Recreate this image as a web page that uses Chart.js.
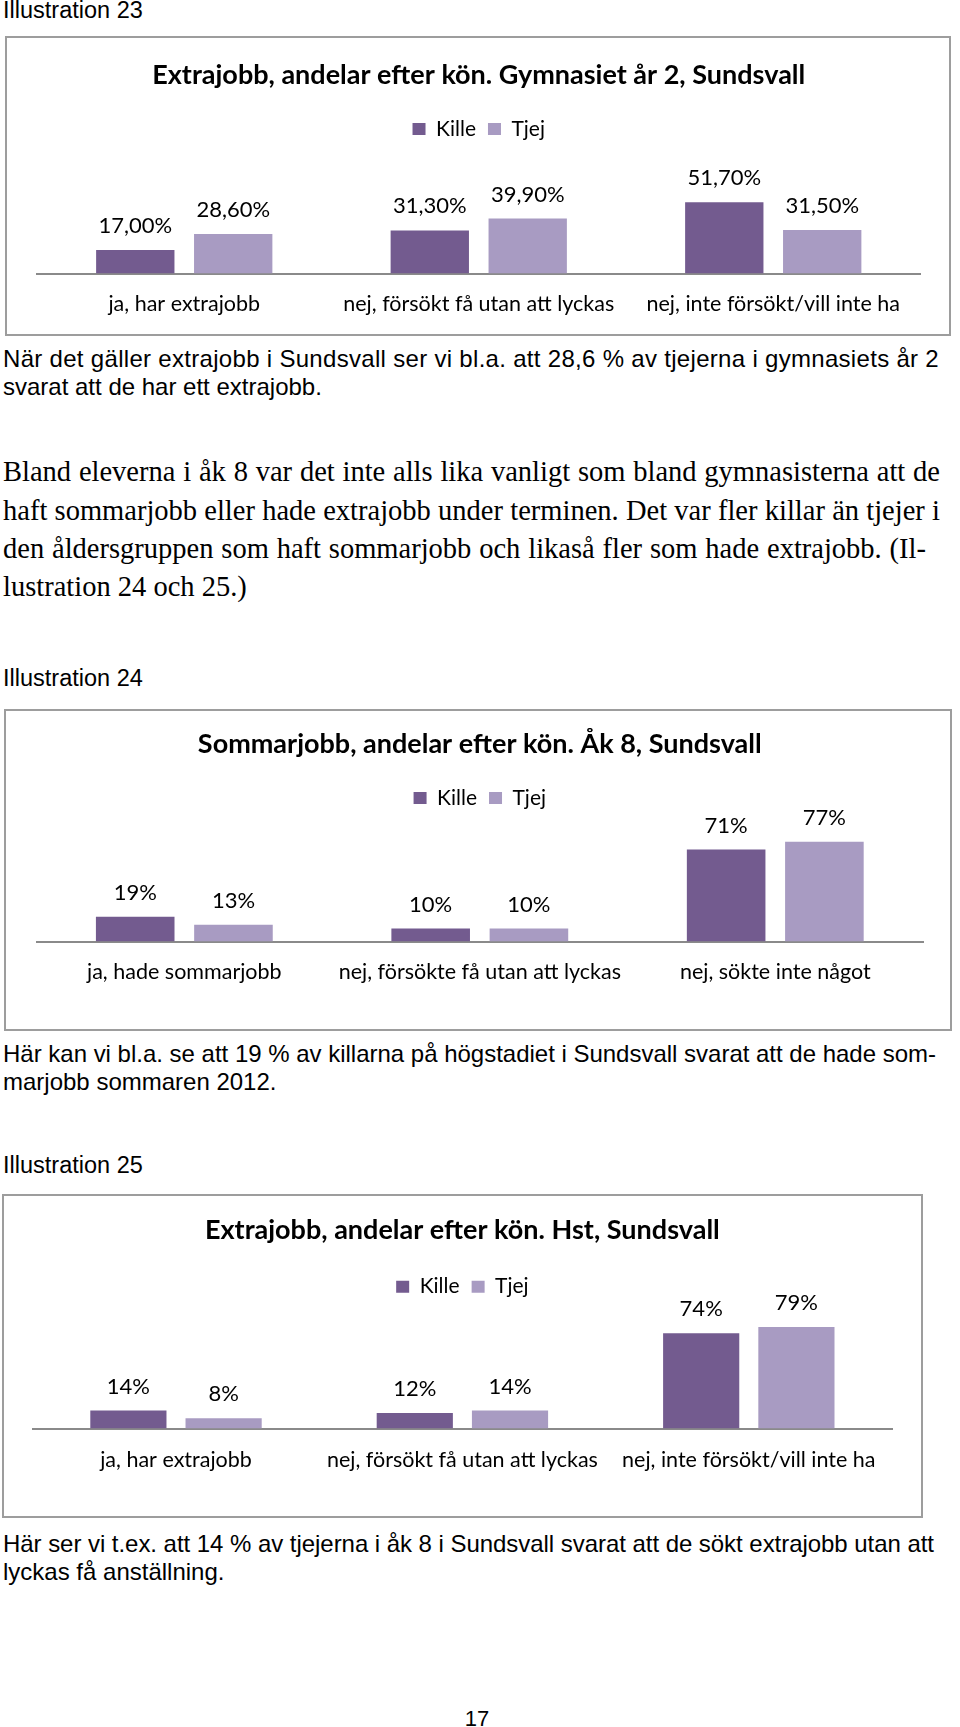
<!DOCTYPE html>
<html>
<head>
<meta charset="utf-8">
<style>
  body { margin: 0; background: #fff; width: 960px; height: 1727px; position: relative; overflow: hidden; }
  .t { position: absolute; left: 3px; font-family: "Liberation Sans", Arial, sans-serif; font-size: 23.5px; line-height: 23.5px; white-space: nowrap; color: #000; }
  .b { font-size: 24px; line-height: 24px; }
  .s { position: absolute; left: 3px; font-family: "Liberation Serif", "Times New Roman", serif; font-size: 28.5px; line-height: 28.5px; white-space: nowrap; color: #000; }
  .box { position: absolute; border: 2px solid #9d9d9d; box-sizing: border-box; }
  canvas { position: absolute; }
</style>
<script src="https://cdn.jsdelivr.net/npm/chart.js"></script>
</head>
<body>

<div class="t" style="top:-1px">Illustration 23</div>
<div class="box" style="left:5px;top:36px;width:946px;height:300px"></div>
<canvas id="c1" width="942" height="296" style="left:7px;top:38px;width:942px;height:296px"></canvas>

<div class="t b" data-w="936" style="top:347.4px">När det gäller extrajobb i Sundsvall ser vi bl.a. att 28,6 % av tjejerna i gymnasiets år 2</div>
<div class="t b" style="top:374.7px">svarat att de har ett extrajobb.</div>

<div class="s" data-ws="937" style="top:458.4px">Bland eleverna i åk 8 var det inte alls lika vanligt som bland gymnasisterna att de</div>
<div class="s" data-ws="937" style="top:496.7px">haft sommarjobb eller hade extrajobb under terminen. Det var fler killar än tjejer i</div>
<div class="s" data-ws="923" style="top:535px">den åldersgruppen som haft sommarjobb och likaså fler som hade extrajobb. (Il-</div>
<div class="s" style="top:573.3px">lustration 24 och 25.)</div>

<div class="t" style="top:667px">Illustration 24</div>
<div class="box" style="left:4px;top:709px;width:948px;height:322px"></div>
<canvas id="c2" width="944" height="318" style="left:6px;top:711px;width:944px;height:318px"></canvas>

<div class="t b" data-w="933" style="top:1042.2px">Här kan vi bl.a. se att 19 % av killarna på högstadiet i Sundsvall svarat att de hade som-</div>
<div class="t b" style="top:1069.5px">marjobb sommaren 2012.</div>

<div class="t" style="top:1154px">Illustration 25</div>
<div class="box" style="left:2px;top:1194px;width:921px;height:324px"></div>
<canvas id="c3" width="917" height="320" style="left:4px;top:1196px;width:917px;height:320px"></canvas>

<div class="t b" data-w="931" style="top:1532.4px">Här ser vi t.ex. att 14 % av tjejerna i åk 8 i Sundsvall svarat att de sökt extrajobb utan att</div>
<div class="t b" style="top:1559.7px">lyckas få anställning.</div>

<div class="t" style="top:1707px;left:0;width:954px;text-align:center;font-size:22px">17</div>

<script>
const seriesNames = ['Kille', 'Tjej'];

const title1 = 'Extrajobb, andelar efter kön. Gymnasiet år 2, Sundsvall';
const cats1 = ['ja, har extrajobb', 'nej, försökt få utan att lyckas', 'nej, inte försökt/vill inte ha'];
const kille1 = [17.0, 31.3, 51.7];
const tjej1 = [28.6, 39.9, 31.5];

const title2 = 'Sommarjobb, andelar efter kön. Åk 8, Sundsvall';
const cats2 = ['ja, hade sommarjobb', 'nej, försökte få utan att lyckas', 'nej, sökte inte något'];
const kille2 = [19, 10, 71];
const tjej2 = [13, 10, 77];

const title3 = 'Extrajobb, andelar efter kön. Hst, Sundsvall';
const cats3 = ['ja, har extrajobb', 'nej, försökt få utan att lyckas', 'nej, inte försökt/vill inte ha'];
const kille3 = [14, 12, 74];
const tjej3 = [8, 14, 79];

const killeColor = '#735b8f';
const tjejColor = '#a89bc2';
const font = 'Lato, "Open Sans", sans-serif';

// stretch the printed lines to the width they have on the page
document.querySelectorAll('[data-w]').forEach(el => {
  const w = el.getBoundingClientRect().width;
  el.style.letterSpacing = ((+el.dataset.w - w) / el.textContent.length) + 'px';
});
document.querySelectorAll('[data-ws]').forEach(el => {
  const w = el.getBoundingClientRect().width;
  const gaps = el.textContent.split(' ').length - 1;
  el.style.wordSpacing = ((+el.dataset.ws - w) / gaps) + 'px';
});

// values written above each bar
const valueLabels = {
  id: 'valueLabels',
  afterDatasetsDraw(chart, args, opts) {
    const ctx = chart.ctx;
    ctx.save();
    ctx.font = '22px ' + font;
    ctx.fillStyle = '#000';
    ctx.textAlign = 'center';
    ctx.textBaseline = 'middle';
    chart.data.datasets.forEach((ds, i) => {
      chart.getDatasetMeta(i).data.forEach((bar, j) => {
        ctx.fillText(opts.fmt(ds.data[j]), bar.x, bar.y - 24);
      });
    });
    ctx.restore();
  }
};

function drawChart(id, titleText, cats, kille, tjej, fmt, lay) {
  new Chart(document.getElementById(id), {
    type: 'bar',
    data: {
      labels: cats,
      datasets: [
        { label: seriesNames[0], data: kille, backgroundColor: killeColor },
        { label: seriesNames[1], data: tjej, backgroundColor: tjejColor }
      ]
    },
    options: {
      responsive: false,
      animation: false,
      layout: { padding: { top: 0, left: lay.left, right: lay.right, bottom: 0 } },
      datasets: { bar: { categoryPercentage: 0.665, barPercentage: 0.8 } },
      plugins: {
        title: {
          display: true, text: titleText, color: '#000',
          font: { family: font, size: 27, weight: 'bold' },
          padding: { top: lay.tTop, bottom: lay.tBot }
        },
        legend: {
          display: true, position: 'top',
          labels: { color: '#000', font: { family: font, size: 21 }, boxWidth: 13, boxHeight: 12, padding: 12 }
        },
        tooltip: { enabled: false },
        valueLabels: { fmt: fmt }
      },
      scales: {
        x: {
          grid: { display: false, drawTicks: false },
          border: { display: true, color: '#8a8a8a', width: 2 },
          ticks: { color: '#000', font: { family: font, size: 21.5 }, padding: lay.tick, maxRotation: 0, autoSkip: false },
          afterFit: s => { s.height = lay.axisH; }
        },
        y: { display: false, min: 0, max: lay.max }
      }
    },
    plugins: [valueLabels]
  });
}

const pct2 = v => v.toFixed(2).replace('.', ',') + '%';
const pct0 = v => v + '%';

drawChart('c1', title1, cats1, kille1, tjej1, pct2,
  { left: 30, right: 28.5, tTop: 20.8, tBot: 15.3, tick: 17.6, axisH: 60.5, max: 90 });
drawChart('c2', title2, cats2, kille2, tjej2, pct0,
  { left: 30.6, right: 27, tTop: 16.8, tBot: 15.3, tick: 17.6, axisH: 87.5, max: 94.9 });
drawChart('c3', title3, cats3, kille3, tjej3, pct0,
  { left: 28.8, right: 29, tTop: 17.8, tBot: 18, tick: 18.5, axisH: 87.5, max: 94.3 });
</script>
</body>
</html>
